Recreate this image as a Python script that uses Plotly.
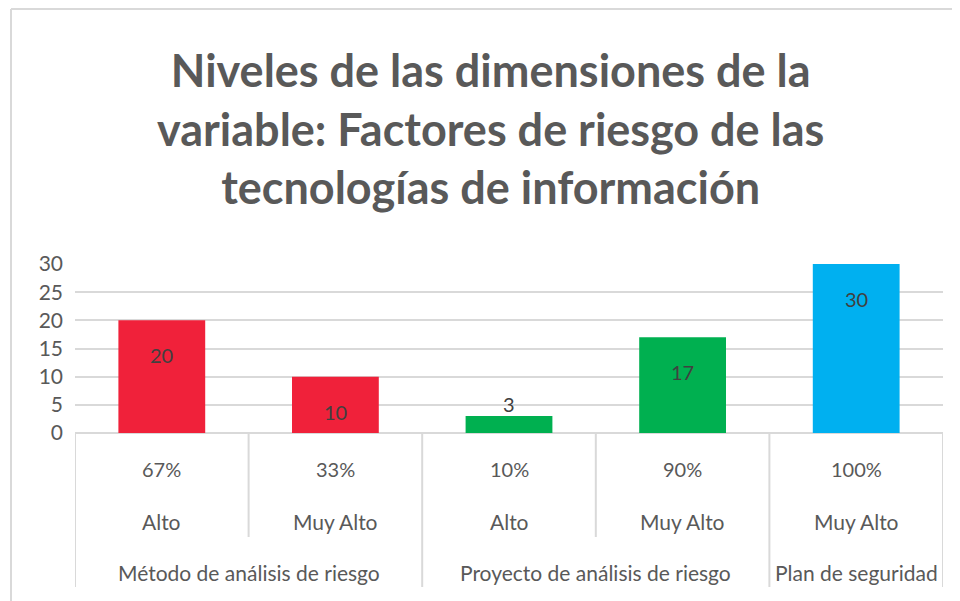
import plotly.graph_objects as go

# Data
groups = ["Método de análisis de riesgo", "Proyecto de análisis de riesgo", "Plan de seguridad"]
group_sizes = [2, 2, 1]
levels = ["Alto", "Muy Alto", "Alto", "Muy Alto", "Muy Alto"]
percents = ["67%", "33%", "10%", "90%", "100%"]
values = [20, 10, 3, 17, 30]
bar_colors = ["#F0213A", "#F0213A", "#00B050", "#00B050", "#00B0F0"]

TITLE = ("Niveles de las dimensiones de la<br>"
         "variable: Factores de riesgo de las<br>"
         "tecnologías de información")

# Layout in screen pixels (960x601 window); the page body adds an 8px offset
W, H = 960, 601
OFF = 8
PLOT_L, PLOT_R, PLOT_T, PLOT_B = 75 - OFF, 943 - OFF, 264 - OFF, 433 - OFF
GRID = "#D9D9D9"
TEXT = "#595959"
FONT = "Lato"


def py(p):  # screen pixel y -> paper y
    return (PLOT_B - (p - OFF)) / (PLOT_B - PLOT_T)


def px(p):  # screen pixel x -> paper x
    return ((p - OFF) - PLOT_L) / (PLOT_R - PLOT_L)


xs = list(range(len(values)))

fig = go.Figure(go.Bar(
    x=xs, y=values, width=0.5,
    marker=dict(color=bar_colors, line=dict(width=0)),
    hoverinfo="skip",
))

annotations = []
# title
annotations.append(dict(x=px(490), y=py(41), xref="paper", yref="paper", text=TITLE,
                        showarrow=False, xanchor="center", yanchor="top", align="center",
                        font=dict(family=FONT, size=45, color=TEXT, weight="bold")))
# data labels
for x, v in zip(xs, values):
    inside = v >= 5
    annotations.append(dict(
        x=x, y=v, xref="x", yref="y", text=str(v), showarrow=False,
        yanchor="top" if inside else "bottom", yshift=-21 if inside else -2,
        font=dict(family=FONT, size=20, color="#404040"),
    ))
# category rows
for x, pct, lvl in zip(xs, percents, levels):
    annotations.append(dict(x=x, y=py(469), xref="x", yref="paper", text=pct,
                            showarrow=False, yanchor="middle",
                            font=dict(family=FONT, size=20, color=TEXT)))
    annotations.append(dict(x=x, y=py(521), xref="x", yref="paper", text=lvl,
                            showarrow=False, yanchor="middle",
                            font=dict(family=FONT, size=21, color=TEXT)))

shapes = []
start = 0
for g, n in zip(groups, group_sizes):
    centre = start + (n - 1) / 2
    annotations.append(dict(x=centre, y=py(572), xref="x", yref="paper", text=g,
                            showarrow=False, yanchor="middle",
                            font=dict(family=FONT, size=21, color=TEXT)))
    # long separator at group start
    shapes.append(dict(type="line", xref="x", yref="paper", x0=start - 0.5, x1=start - 0.5,
                       y0=0, y1=py(587), line=dict(color=GRID, width=2)))
    # short separators inside the group
    for k in range(1, n):
        shapes.append(dict(type="line", xref="x", yref="paper", x0=start + k - 0.5,
                           x1=start + k - 0.5, y0=0, y1=py(537), line=dict(color=GRID, width=2)))
    start += n
shapes.append(dict(type="line", xref="x", yref="paper", x0=start - 0.5, x1=start - 0.5,
                   y0=0, y1=py(587), line=dict(color=GRID, width=2)))

# outer chart border (left and top edges visible)
shapes.append(dict(type="line", xref="paper", yref="paper", x0=px(11), x1=px(11),
                   y0=py(9), y1=py(H + 20), line=dict(color=GRID, width=2)))
shapes.append(dict(type="line", xref="paper", yref="paper", x0=px(11), x1=px(W + 20),
                   y0=py(9), y1=py(9), line=dict(color=GRID, width=2)))

fig.update_layout(
    width=W - OFF, height=H - OFF,
    margin=dict(l=PLOT_L, r=W - OFF - PLOT_R, t=PLOT_T, b=H - OFF - PLOT_B, pad=0),
    paper_bgcolor="white", plot_bgcolor="white",
    showlegend=False,
    annotations=annotations, shapes=shapes,
    bargap=0.5,
)
fig.update_xaxes(range=[-0.5, len(values) - 0.5], showticklabels=False, showgrid=False,
                 zeroline=False, showline=False, ticks="")
fig.update_yaxes(range=[0, 30], dtick=5, showgrid=True, gridcolor=GRID, gridwidth=2,
                 zeroline=True, zerolinecolor=GRID, zerolinewidth=2, showline=False,
                 ticks="", ticklabelstandoff=11,
                 tickfont=dict(family=FONT, size=21, color=TEXT))

fig.write_html("out.html")
